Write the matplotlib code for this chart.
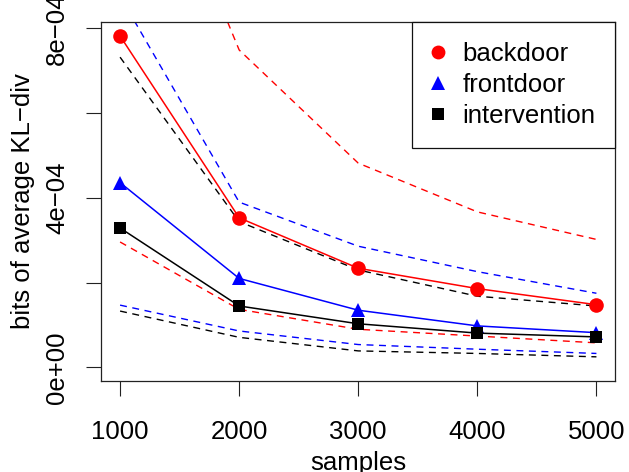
import matplotlib
matplotlib.use("Agg")
import matplotlib.pyplot as plt
from matplotlib.lines import Line2D

# data
samples = [1000, 2000, 3000, 4000, 5000]

backdoor = [7.82e-4, 3.53e-4, 2.34e-4, 1.86e-4, 1.48e-4]
backdoor_hi = [14.3e-4, 7.49e-4, 4.82e-4, 3.67e-4, 3.02e-4]
backdoor_lo = [2.96e-4, 1.37e-4, 0.90e-4, 0.74e-4, 0.58e-4]

frontdoor = [4.36e-4, 2.10e-4, 1.35e-4, 0.98e-4, 0.82e-4]
frontdoor_hi = [8.76e-4, 3.90e-4, 2.86e-4, 2.26e-4, 1.75e-4]
frontdoor_lo = [1.47e-4, 0.86e-4, 0.54e-4, 0.43e-4, 0.33e-4]

intervention = [3.29e-4, 1.45e-4, 1.03e-4, 0.81e-4, 0.72e-4]
intervention_hi = [7.32e-4, 3.44e-4, 2.30e-4, 1.68e-4, 1.45e-4]
intervention_lo = [1.33e-4, 0.71e-4, 0.39e-4, 0.33e-4, 0.25e-4]

yticks = [0, 2e-4, 4e-4, 6e-4, 8e-4]
ytick_labels = ["0e+00", "", "4e\u221204", "", "8e\u221204"]
xticks = [1000, 2000, 3000, 4000, 5000]

plt.rcParams['font.family'] = ['Liberation Sans', 'DejaVu Sans']
FS = 18.5

fig = plt.figure(figsize=(6.29, 4.72), dpi=100)
ax = fig.add_axes([0.1606, 0.1928, 0.8179, 0.7606])

dash = (0, (5, 4))
series = [
    ("backdoor", backdoor, backdoor_hi, backdoor_lo, "#FF0000", "o", 10.5),
    ("frontdoor", frontdoor, frontdoor_hi, frontdoor_lo, "#0000FF", "^", 10.5),
    ("intervention", intervention, intervention_hi, intervention_lo, "#000000", "s", 9),
]

for name, mean, hi, lo, col, mk, ms in series:
    ax.plot(samples, hi, color=col, lw=1.0, linestyle=dash)
    ax.plot(samples, lo, color=col, lw=1.0, linestyle=dash)
for name, mean, hi, lo, col, mk, ms in series:
    ax.plot(samples, mean, color=col, lw=1.1, marker=mk, markersize=ms,
            markeredgewidth=0, zorder=5)

ax.set_xlim(840, 5160)
ax.set_ylim(-0.32e-4, 8.15e-4)

ax.set_xticks(xticks)
ax.set_xticklabels([str(x) for x in xticks], fontsize=FS)
ax.set_yticks(yticks)
ax.set_yticklabels(ytick_labels, fontsize=FS, rotation=90, va="center")
ax.tick_params(axis="both", direction="out", length=11, width=0.8, color="#222222")
ax.tick_params(axis="x", pad=17)
ax.tick_params(axis="y", pad=12)

for s in ax.spines.values():
    s.set_linewidth(0.9)
    s.set_color("#222222")

ax.set_xlabel("samples", fontsize=FS, labelpad=5)
ax.set_ylabel("bits of average KL\u2212div", fontsize=FS, labelpad=7)

handles = [Line2D([], [], color=c, marker=m, linestyle="none", markersize=ms * 0.95,
                  markeredgewidth=0) for _, _, _, _, c, m, ms in series]
leg = ax.legend(handles, [s[0] for s in series], loc="upper right", fontsize=FS,
                frameon=True, fancybox=False, framealpha=1, edgecolor="#111111",
                borderaxespad=0, borderpad=0.78, labelspacing=0.28,
                handlelength=0.5, handletextpad=0.7)
leg.get_frame().set_linewidth(0.9)

fig.savefig("out.png", dpi=100)
